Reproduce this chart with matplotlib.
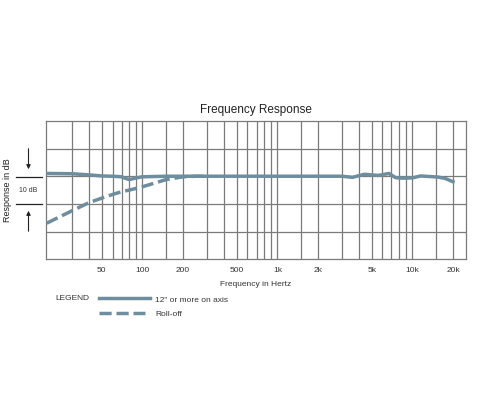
import numpy as np
import matplotlib
matplotlib.use("Agg")
import matplotlib.pyplot as plt

plt.rcParams['font.family'] = ['Liberation Sans', 'DejaVu Sans']

# on-axis response (Hz, dB)
freq_axis = [20, 30, 40, 50, 60, 70, 75, 80, 90, 100, 150, 300, 1000, 3000,
             3600, 4400, 5600, 6700, 7500, 8400, 10000, 11500, 15500, 17500, 20000]
resp_axis = [1.0, 0.9, 0.5, 0.1, 0.0, -0.2, -0.8, -1.2, -0.6, -0.2, 0.0, 0.0, 0.0, 0.0,
             -0.4, 0.7, 0.3, 1.0, -0.5, -0.7, -0.6, 0.1, -0.3, -0.8, -2.0]

# roll-off response
freq_roll = [19.5, 30, 40, 50, 60, 70, 80, 100, 150, 200, 250, 300]
resp_roll = [-17, -12.5, -9.6, -7.9, -6.6, -5.6, -5.0, -3.8, -1.2, -0.2, 0.0, 0.0]

grid_freqs = [30, 40, 50, 60, 70, 80, 90, 100, 150, 200, 300, 400, 500, 600, 700,
              800, 900, 1000, 1500, 2000, 3000, 4000, 5000, 6000, 7000, 8000, 9000,
              10000, 15000, 20000]
tick_freqs = [50, 100, 200, 500, 1000, 2000, 5000, 10000, 20000]
tick_labels = ['50', '100', '200', '500', '1k', '2k', '5k', '10k', '20k']

line_col = '#6e8d9e'
grid_col = '#7a7a7a'
dash = (0, (3.5, 1.4))

fig = plt.figure(figsize=(4.8, 4.2), dpi=100)
ax = fig.add_axes([0.096, 0.383, 0.875, 0.329])
ax.set_xscale('log')
ax.set_xlim(19.3, 25000)
ax.set_ylim(-30, 20)

for f in grid_freqs:
    ax.axvline(f, color=grid_col, lw=0.9, zorder=1)
for yv in [-20, -10, 0, 10]:
    ax.axhline(yv, color=grid_col, lw=0.9, zorder=1)
for s in ax.spines.values():
    s.set_color(grid_col)
    s.set_linewidth(0.9)

ax.plot(freq_roll, resp_roll, color=line_col, lw=2.5, ls=dash, zorder=3)
ax.plot(freq_axis, resp_axis, color=line_col, lw=2.5, zorder=4)

ax.set_xticks(tick_freqs)
ax.set_xticklabels(tick_labels, fontsize=6)
ax.xaxis.set_minor_locator(matplotlib.ticker.NullLocator())
ax.tick_params(axis='x', length=0, pad=6, colors='#333333')
ax.set_yticks([])
ax.set_xlabel('Frequency in Hertz', fontsize=6, color='#333333', labelpad=5)
ax.set_title('Frequency Response', fontsize=8.5, color='#222222', pad=6)

# 10 dB scale marker on the left
fig.text(8 / 480, 1 - 190 / 420, 'Response in dB', rotation=90, fontsize=6.5,
         va='center', ha='center', color='#222222')
fig.text(28 / 480, 1 - 191 / 420, '10 dB', fontsize=5, va='center', ha='center',
         color='#333333')
for yp in [177, 204]:
    fig.add_artist(plt.Line2D([16 / 480, 42 / 480], [1 - yp / 420, 1 - yp / 420],
                              color='#222222', lw=0.9))
ax.annotate('', xy=(28.5 / 480, 1 - 172 / 420), xytext=(28.5 / 480, 1 - 146 / 420),
            xycoords='figure fraction',
            arrowprops=dict(arrowstyle='-|>', color='#222222', lw=0.8,
                            mutation_scale=6))
ax.annotate('', xy=(28.5 / 480, 1 - 208 / 420), xytext=(28.5 / 480, 1 - 234 / 420),
            xycoords='figure fraction',
            arrowprops=dict(arrowstyle='-|>', color='#222222', lw=0.8,
                            mutation_scale=6))

# legend
fig.text(55 / 480, 1 - 298 / 420, 'LEGEND', fontsize=6, va='center', color='#333333')
fig.add_artist(plt.Line2D([99 / 480, 150 / 480], [1 - 298 / 420, 1 - 298 / 420],
                          color=line_col, lw=2.5))
fig.add_artist(plt.Line2D([99 / 480, 145 / 480], [1 - 313 / 420, 1 - 313 / 420],
                          color=line_col, lw=2.5, ls=dash))
fig.text(155 / 480, 1 - 300 / 420, '12" or more on axis', fontsize=6, va='center',
         color='#333333')
fig.text(155 / 480, 1 - 314 / 420, 'Roll-off', fontsize=6, va='center', color='#333333')

fig.savefig('out.png', dpi=100)
